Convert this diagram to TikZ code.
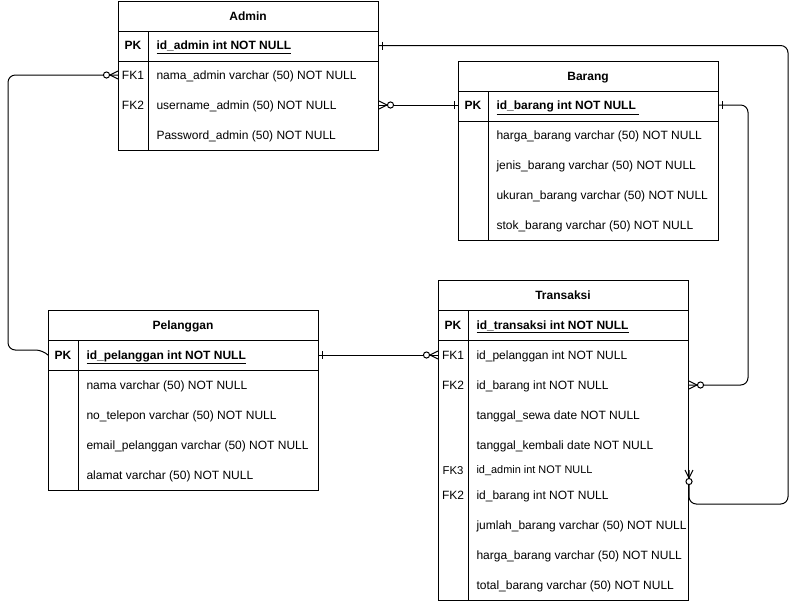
\documentclass[tikz,border=0pt]{standalone}
\usepackage{fontspec}
\setmainfont{Liberation Sans}
\begin{document}
\begin{tikzpicture}[x=0.75pt,y=-0.75pt,line width=0.75pt,
  tframe/.style={draw,fill=white,anchor=north west,inner sep=0pt},
  ttitle/.style={font=\fontsize{9}{10}\selectfont\bfseries,inner sep=0pt,text height=6.5pt,text depth=0pt},
  keyt/.style={font=\fontsize{9}{10}\selectfont,inner sep=0pt,text height=6.5pt,text depth=0pt},
  pkkey/.style={font=\fontsize{9}{10}\selectfont\bfseries,inner sep=0pt,text height=6.5pt,text depth=0pt},
  rowt/.style={font=\fontsize{9}{10}\selectfont,inner sep=0pt,anchor=west,text height=6.5pt,text depth=0pt},
  pkrow/.style={font=\fontsize{9}{10}\selectfont\bfseries,inner sep=0pt,anchor=west,text height=6.5pt,text depth=0pt},
  smallrow/.style={font=\fontsize{8.2}{9}\selectfont,inner sep=0pt,anchor=west,text height=5.9pt,text depth=0pt},
  smallkey/.style={font=\fontsize{8.5}{9}\selectfont,inner sep=0pt,text height=6.1pt,text depth=0pt},
  conn/.style={draw,rounded corners=5.5pt},
  zeromany/.pic={\draw (0,-4) -- (8,0) -- (0,4); \draw[fill=white] (11.5,0) circle[radius=2.3pt];},
  onebar/.pic={\draw (3.5,-4) -- (3.5,4);}
]
\useasboundingbox (0,0) rectangle (798,601);

% ---------- Admin ----------
\node[tframe,minimum width=195pt,minimum height=111.75pt] (adm) at (118,1) {};
\draw (118,31) -- (378,31);
\draw (118,61) -- (378,61);
\draw (148,31) -- (148,150);
\node[ttitle] (admt) at (248,16) {Admin};
\node[pkkey] (ak0) at (133,45.5) {PK};
\node[pkrow] (a0) at (156,45.5) {\underline{id\_admin int NOT NULL}};
\node[keyt] (ak1) at (133,75) {FK1};
\node[rowt] (a1) at (156,75) {nama\_admin varchar (50) NOT NULL};
\node[keyt] (ak2) at (133,105) {FK2};
\node[rowt] (a2) at (156,105) {username\_admin (50) NOT NULL};
\node[rowt] (a3) at (156,135) {Password\_admin (50) NOT NULL};

% ---------- Barang ----------
\node[tframe,minimum width=195pt,minimum height=134.25pt] (bar) at (458,61) {};
\draw (458,91) -- (718,91);
\draw (458,121) -- (718,121);
\draw (488,91) -- (488,240);
\node[ttitle] (bart) at (588,76) {Barang};
\node[pkkey] (bk0) at (473,105.5) {PK};
\node[pkrow] (b0) at (496,105.5) {\underline{id\_barang int NOT NULL\ }};
\node[rowt] (b1) at (496,135) {harga\_barang varchar (50) NOT NULL};
\node[rowt] (b2) at (496,165) {jenis\_barang varchar (50) NOT NULL};
\node[rowt] (b3) at (496,195) {ukuran\_barang varchar (50) NOT NULL};
\node[rowt] (b4) at (496,225) {stok\_barang varchar (50) NOT NULL};

% ---------- Pelanggan ----------
\node[tframe,minimum width=202.5pt,minimum height=135pt] (pel) at (48,310) {};
\draw (48,340) -- (318,340);
\draw (48,370) -- (318,370);
\draw (78,340) -- (78,490);
\node[ttitle] (pelt) at (183,325) {Pelanggan};
\node[pkkey] (pk0) at (63,355) {PK};
\node[pkrow] (p0) at (86,355) {\underline{id\_pelanggan int NOT NULL}};
\node[rowt] (p1) at (86,385) {nama varchar (50) NOT NULL};
\node[rowt] (p2) at (86,415) {no\_telepon varchar (50) NOT NULL};
\node[rowt] (p3) at (86,445) {email\_pelanggan varchar (50) NOT NULL};
\node[rowt] (p4) at (86,475) {alamat varchar (50) NOT NULL};

% ---------- Transaksi ----------
\node[tframe,minimum width=187.5pt,minimum height=240pt] (trx) at (438,280) {};
\draw (438,310) -- (688,310);
\draw (438,340) -- (688,340);
\draw (468,310) -- (468,600);
\node[ttitle] (trxt) at (563,295) {Transaksi};
\node[pkkey] (tk0) at (453,325) {PK};
\node[pkrow] (t0) at (476,325) {\underline{id\_transaksi int NOT NULL}};
\node[keyt] (tk1) at (453,355) {FK1};
\node[rowt] (t1) at (476,355) {id\_pelanggan int NOT NULL};
\node[keyt] (tk2) at (453,385) {FK2};
\node[rowt] (t2) at (476,385) {id\_barang int NOT NULL};
\node[rowt] (t3) at (476,415) {tanggal\_sewa date NOT NULL};
\node[rowt] (t4) at (476,445) {tanggal\_kembali date NOT NULL};
\node[smallkey] (tk5) at (453,470) {FK3};
\node[smallrow] (t5) at (476,470) {id\_admin int NOT NULL};
\node[keyt] (tk6) at (453,495) {FK2};
\node[rowt] (t6) at (476,495) {id\_barang int NOT NULL};
\node[rowt] (t7) at (476,525) {jumlah\_barang varchar (50) NOT NULL};
\node[rowt] (t8) at (476,555) {harga\_barang varchar (50) NOT NULL};
\node[rowt] (t9) at (476,585) {total\_barang varchar (50) NOT NULL};

% ---------- connectors ----------
\coordinate (rr) at (788,504);
\coordinate (lc) at (8,350);
\coordinate (lk) at (43,350);
\coordinate (rc) at (748,385);

\path[conn] (adm.east |- ak0) -| (rr) -| (trx.east |- t5);
\path[conn] (adm.west |- a1) -| (lc) -- (lk) -- (pel.west |- p0);
\path[conn] (adm.east |- a2) -- (bar.west |- a2);
\path[conn] (bar.east |- a2) -| (rc) -- (trx.east |- t2);
\path[conn] (pel.east |- p0) -- (trx.west |- p0);

% ---------- markers ----------
\pic at (adm.east |- ak0) {onebar};
\pic[rotate=-90] at (trx.east |- t5) {zeromany};
\pic[rotate=180] at (adm.west |- a1) {zeromany};
\pic at (adm.east |- a2) {zeromany};
\pic[rotate=180] at (bar.west |- a2) {onebar};
\pic at (bar.east |- a2) {onebar};
\pic at (trx.east |- t2) {zeromany};
\pic at (pel.east |- p0) {onebar};
\pic[rotate=180] at (trx.west |- p0) {zeromany};
\end{tikzpicture}
\end{document}
